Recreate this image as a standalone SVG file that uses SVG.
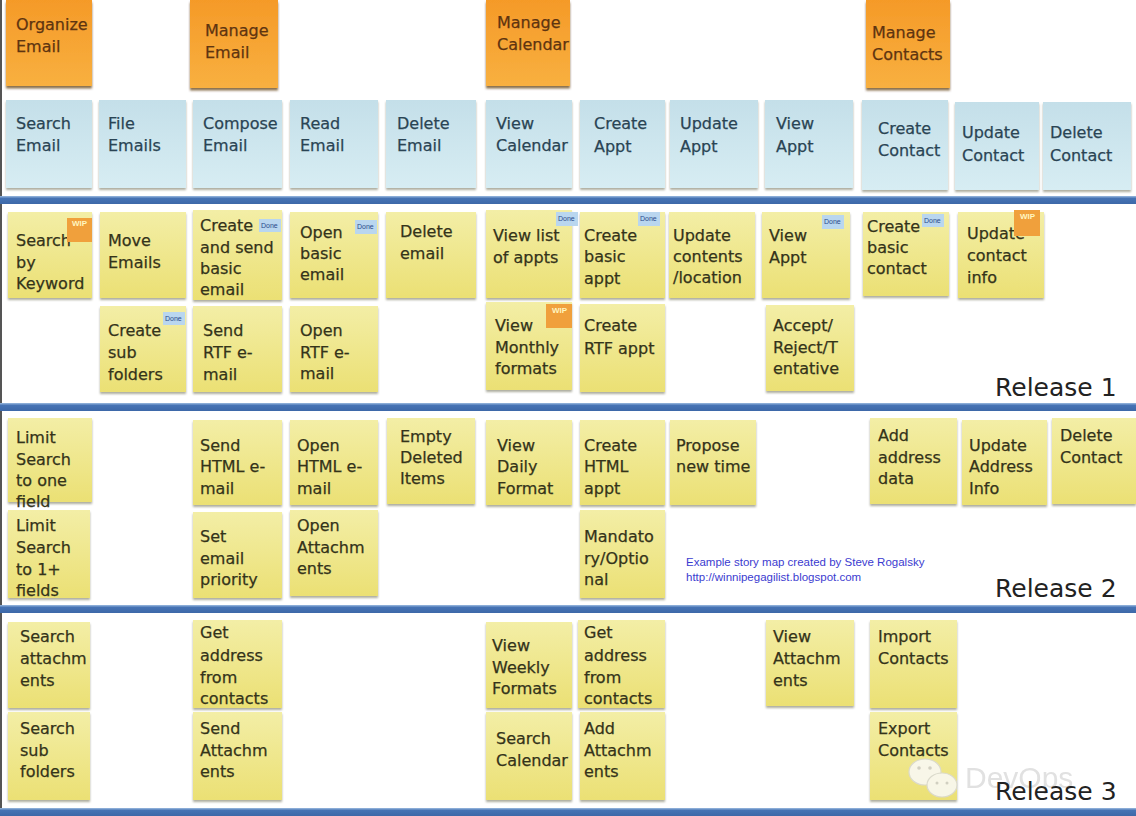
<svg xmlns="http://www.w3.org/2000/svg" width="1136" height="816" viewBox="0 0 1136 816">
<defs>
<linearGradient id="gy" x1="0" y1="0" x2="0" y2="1"><stop offset="0" stop-color="#f3eea6"/><stop offset="1" stop-color="#ebe074"/></linearGradient>
<linearGradient id="gb" x1="0" y1="0" x2="0" y2="1"><stop offset="0" stop-color="#c4dfe9"/><stop offset="1" stop-color="#d7edf3"/></linearGradient>
<linearGradient id="go" x1="0" y1="0" x2="0" y2="1"><stop offset="0" stop-color="#f59a28"/><stop offset="1" stop-color="#f8b040"/></linearGradient>
<linearGradient id="gbar" x1="0" y1="0" x2="0" y2="1"><stop offset="0" stop-color="#9cbbe0"/><stop offset="0.3" stop-color="#4673b4"/><stop offset="1" stop-color="#3d68a8"/></linearGradient>
<filter id="ds" x="-10%" y="-10%" width="120%" height="125%"><feDropShadow dx="0" dy="2" stdDeviation="1.2" flood-color="#6a6a50" flood-opacity="0.55"/></filter>
<filter id="dso" x="-10%" y="-10%" width="120%" height="125%"><feDropShadow dx="0" dy="2.5" stdDeviation="1" flood-color="#5a3000" flood-opacity="0.7"/></filter>
</defs>
<style>
text{font-family:"Comic Sans MS","DejaVu Sans",sans-serif;font-size:16px}
.y rect.n{fill:url(#gy);filter:url(#ds)}
.b rect.n{fill:url(#gb);filter:url(#ds)}
.o rect.n{fill:url(#go);filter:url(#dso)}
.y text{fill:#34331a;stroke:#34331a;stroke-width:0.25}
.b text{fill:#2a4454;stroke:#2a4454;stroke-width:0.25}
.o text{fill:#5e3410;stroke:#5e3410;stroke-width:0.25}
.bar{fill:url(#gbar)}
.done rect{fill:#b9d6ef}
.done text{font-size:7px;fill:#2a4a8a;stroke:none;font-family:"Liberation Sans",sans-serif}
.wip rect{fill:#f0a03c}
.wip text{font-size:8px;fill:#fff6c0;stroke:none;font-family:"Liberation Sans",sans-serif;font-weight:bold}
.rel{font-size:25px;fill:#222}
.credit{font-family:"Liberation Sans",Arial,sans-serif;font-size:11.5px;fill:#3b3bd0}
</style>
<rect width="1136" height="816" fill="#ffffff"/>
<rect x="0" y="0" width="2" height="816" fill="#555"/>

<g id="connectors">
<rect class="bar" x="0" y="196" width="1136" height="8"/>
<rect class="bar" x="0" y="403" width="1136" height="8"/>
<rect class="bar" x="0" y="605" width="1136" height="8"/>
<rect class="bar" x="0" y="808" width="1136" height="8"/>
</g>

<!-- Orange epics -->
<g id="epic-organize-email" class="o"><rect class="n" x="6" y="0" width="86" height="86"/><text><tspan x="16" y="30">Organize</tspan><tspan x="16" y="52">Email</tspan></text></g>
<g id="epic-manage-email" class="o"><rect class="n" x="190" y="0" width="88" height="88"/><text><tspan x="205" y="36">Manage</tspan><tspan x="205" y="58">Email</tspan></text></g>
<g id="epic-manage-calendar" class="o"><rect class="n" x="486" y="0" width="84" height="86"/><text><tspan x="497" y="28">Manage</tspan><tspan x="497" y="50">Calendar</tspan></text></g>
<g id="epic-manage-contacts" class="o"><rect class="n" x="866" y="0" width="84" height="88"/><text><tspan x="872" y="38">Manage</tspan><tspan x="872" y="60">Contacts</tspan></text></g>

<!-- Blue activities -->
<g id="act-search-email" class="b"><rect class="n" x="6" y="100" width="86" height="88"/><text><tspan x="16" y="129">Search</tspan><tspan x="16" y="151">Email</tspan></text></g>
<g id="act-file-emails" class="b"><rect class="n" x="99" y="100" width="87" height="88"/><text><tspan x="108" y="129">File</tspan><tspan x="108" y="151">Emails</tspan></text></g>
<g id="act-compose-email" class="b"><rect class="n" x="193" y="100" width="89" height="88"/><text><tspan x="203" y="129">Compose</tspan><tspan x="203" y="151">Email</tspan></text></g>
<g id="act-read-email" class="b"><rect class="n" x="290" y="100" width="88" height="88"/><text><tspan x="300" y="129">Read</tspan><tspan x="300" y="151">Email</tspan></text></g>
<g id="act-delete-email" class="b"><rect class="n" x="386" y="100" width="90" height="88"/><text><tspan x="397" y="129">Delete</tspan><tspan x="397" y="151">Email</tspan></text></g>
<g id="act-view-calendar" class="b"><rect class="n" x="486" y="100" width="86" height="88"/><text><tspan x="496" y="129">View</tspan><tspan x="496" y="151">Calendar</tspan></text></g>
<g id="act-create-appt" class="b"><rect class="n" x="580" y="100" width="85" height="88"/><text><tspan x="594" y="129">Create</tspan><tspan x="594" y="152">Appt</tspan></text></g>
<g id="act-update-appt" class="b"><rect class="n" x="670" y="100" width="88" height="88"/><text><tspan x="680" y="129">Update</tspan><tspan x="680" y="152">Appt</tspan></text></g>
<g id="act-view-appt" class="b"><rect class="n" x="765" y="100" width="88" height="88"/><text><tspan x="776" y="129">View</tspan><tspan x="776" y="152">Appt</tspan></text></g>
<g id="act-create-contact" class="b"><rect class="n" x="862" y="100" width="86" height="90"/><text><tspan x="878" y="134">Create</tspan><tspan x="878" y="156">Contact</tspan></text></g>
<g id="act-update-contact" class="b"><rect class="n" x="955" y="102" width="84" height="88"/><text><tspan x="962" y="138">Update</tspan><tspan x="962" y="161">Contact</tspan></text></g>
<g id="act-delete-contact" class="b"><rect class="n" x="1043" y="102" width="88" height="88"/><text><tspan x="1050" y="138">Delete</tspan><tspan x="1050" y="161">Contact</tspan></text></g>

<!-- Release 1 -->
<g id="r1-search-keyword" class="y"><rect class="n" x="8" y="212" width="84" height="86"/><text><tspan x="16" y="246">Search</tspan><tspan x="16" y="268">by</tspan><tspan x="16" y="289">Keyword</tspan></text>
<g class="wip"><rect x="67" y="218" width="25" height="24"/><text x="72" y="226">WIP</text></g></g>
<g id="r1-move-emails" class="y"><rect class="n" x="100" y="212" width="86" height="86"/><text><tspan x="108" y="246">Move</tspan><tspan x="108" y="268">Emails</tspan></text></g>
<g id="r1-create-send-basic" class="y"><rect class="n" x="193" y="210" width="89" height="90"/><text><tspan x="200" y="231">Create</tspan><tspan x="200" y="253">and send</tspan><tspan x="200" y="274">basic</tspan><tspan x="200" y="295">email</tspan></text>
<g class="done"><rect x="259" y="219" width="22" height="13"/><text x="261" y="228">Done</text></g></g>
<g id="r1-open-basic" class="y"><rect class="n" x="290" y="212" width="88" height="86"/><text><tspan x="300" y="238">Open</tspan><tspan x="300" y="259">basic</tspan><tspan x="300" y="280">email</tspan></text>
<g class="done"><rect x="355" y="220" width="22" height="14"/><text x="357" y="229">Done</text></g></g>
<g id="r1-delete-email" class="y"><rect class="n" x="386" y="212" width="90" height="86"/><text><tspan x="400" y="237">Delete</tspan><tspan x="400" y="259">email</tspan></text></g>
<g id="r1-view-list" class="y"><rect class="n" x="486" y="210" width="86" height="88"/><text><tspan x="493" y="241">View list</tspan><tspan x="493" y="263">of appts</tspan></text>
<g class="done"><rect x="556" y="212" width="22" height="14"/><text x="558" y="221">Done</text></g></g>
<g id="r1-create-basic-appt" class="y"><rect class="n" x="580" y="212" width="85" height="86"/><text><tspan x="584" y="241">Create</tspan><tspan x="584" y="262">basic</tspan><tspan x="584" y="284">appt</tspan></text>
<g class="done"><rect x="638" y="212" width="22" height="14"/><text x="640" y="221">Done</text></g></g>
<g id="r1-update-contents" class="y"><rect class="n" x="669" y="212" width="86" height="86"/><text><tspan x="673" y="241">Update</tspan><tspan x="673" y="262">contents</tspan><tspan x="673" y="283">/location</tspan></text></g>
<g id="r1-view-appt" class="y"><rect class="n" x="762" y="212" width="88" height="86"/><text><tspan x="769" y="241">View</tspan><tspan x="769" y="263">Appt</tspan></text>
<g class="done"><rect x="822" y="215" width="22" height="14"/><text x="824" y="224">Done</text></g></g>
<g id="r1-create-basic-contact" class="y"><rect class="n" x="863" y="212" width="86" height="84"/><text><tspan x="867" y="232">Create</tspan><tspan x="867" y="253">basic</tspan><tspan x="867" y="274">contact</tspan></text>
<g class="done"><rect x="922" y="214" width="22" height="13"/><text x="924" y="223">Done</text></g></g>
<g id="r1-update-contact-info" class="y"><rect class="n" x="958" y="212" width="86" height="86"/><text><tspan x="967" y="239">Update</tspan><tspan x="967" y="261">contact</tspan><tspan x="967" y="283">info</tspan></text>
<g class="wip"><rect x="1014" y="210" width="26" height="26"/><text x="1020" y="219">WIP</text></g></g>

<g id="r1-create-sub-folders" class="y"><rect class="n" x="100" y="306" width="86" height="86"/><text><tspan x="108" y="336">Create</tspan><tspan x="108" y="358">sub</tspan><tspan x="108" y="380">folders</tspan></text>
<g class="done"><rect x="163" y="312" width="22" height="13"/><text x="165" y="321">Done</text></g></g>
<g id="r1-send-rtf" class="y"><rect class="n" x="193" y="306" width="89" height="86"/><text><tspan x="203" y="336">Send</tspan><tspan x="203" y="358">RTF e-</tspan><tspan x="203" y="380">mail</tspan></text></g>
<g id="r1-open-rtf" class="y"><rect class="n" x="290" y="306" width="88" height="86"/><text><tspan x="300" y="336">Open</tspan><tspan x="300" y="358">RTF e-</tspan><tspan x="300" y="379">mail</tspan></text></g>
<g id="r1-view-monthly" class="y"><rect class="n" x="486" y="302" width="86" height="88"/><text><tspan x="495" y="331">View</tspan><tspan x="495" y="353">Monthly</tspan><tspan x="495" y="374">formats</tspan></text>
<g class="wip"><rect x="546" y="304" width="26" height="24"/><text x="552" y="313">WIP</text></g></g>
<g id="r1-create-rtf-appt" class="y"><rect class="n" x="580" y="304" width="85" height="88"/><text><tspan x="584" y="331">Create</tspan><tspan x="584" y="354">RTF appt</tspan></text></g>
<g id="r1-accept-reject" class="y"><rect class="n" x="766" y="305" width="88" height="86"/><text><tspan x="773" y="331">Accept/</tspan><tspan x="773" y="353">Reject/T</tspan><tspan x="773" y="374">entative</tspan></text></g>
<text id="label-release-1" class="rel" x="995" y="396">Release 1</text>

<!-- Release 2 -->
<g id="r2-limit-one" class="y"><rect class="n" x="8" y="418" width="84" height="84"/><text><tspan x="16" y="443">Limit</tspan><tspan x="16" y="465">Search</tspan><tspan x="16" y="486">to one</tspan><tspan x="16" y="507">field</tspan></text></g>
<g id="r2-send-html" class="y"><rect class="n" x="193" y="420" width="89" height="85"/><text><tspan x="200" y="451">Send</tspan><tspan x="200" y="472">HTML e-</tspan><tspan x="200" y="494">mail</tspan></text></g>
<g id="r2-open-html" class="y"><rect class="n" x="290" y="420" width="88" height="85"/><text><tspan x="297" y="451">Open</tspan><tspan x="297" y="472">HTML e-</tspan><tspan x="297" y="494">mail</tspan></text></g>
<g id="r2-empty-deleted" class="y"><rect class="n" x="387" y="418" width="88" height="86"/><text><tspan x="400" y="442">Empty</tspan><tspan x="400" y="463">Deleted</tspan><tspan x="400" y="484">Items</tspan></text></g>
<g id="r2-view-daily" class="y"><rect class="n" x="486" y="420" width="86" height="85"/><text><tspan x="497" y="451">View</tspan><tspan x="497" y="472">Daily</tspan><tspan x="497" y="494">Format</tspan></text></g>
<g id="r2-create-html-appt" class="y"><rect class="n" x="580" y="420" width="85" height="85"/><text><tspan x="584" y="451">Create</tspan><tspan x="584" y="472">HTML</tspan><tspan x="584" y="494">appt</tspan></text></g>
<g id="r2-propose-time" class="y"><rect class="n" x="670" y="420" width="86" height="85"/><text><tspan x="676" y="451">Propose</tspan><tspan x="676" y="472">new time</tspan></text></g>
<g id="r2-add-address" class="y"><rect class="n" x="870" y="418" width="87" height="86"/><text><tspan x="878" y="441">Add</tspan><tspan x="878" y="463">address</tspan><tspan x="878" y="484">data</tspan></text></g>
<g id="r2-update-address" class="y"><rect class="n" x="962" y="420" width="85" height="85"/><text><tspan x="969" y="451">Update</tspan><tspan x="969" y="472">Address</tspan><tspan x="969" y="494">Info</tspan></text></g>
<g id="r2-delete-contact" class="y"><rect class="n" x="1052" y="418" width="84" height="86"/><text><tspan x="1060" y="441">Delete</tspan><tspan x="1060" y="463">Contact</tspan></text></g>

<g id="r2-limit-many" class="y"><rect class="n" x="8" y="510" width="82" height="88"/><text><tspan x="16" y="531">Limit</tspan><tspan x="16" y="553">Search</tspan><tspan x="16" y="575">to 1+</tspan><tspan x="16" y="596">fields</tspan></text></g>
<g id="r2-set-priority" class="y"><rect class="n" x="193" y="512" width="89" height="86"/><text><tspan x="200" y="542">Set</tspan><tspan x="200" y="564">email</tspan><tspan x="200" y="585">priority</tspan></text></g>
<g id="r2-open-attachments" class="y"><rect class="n" x="290" y="510" width="88" height="86"/><text><tspan x="297" y="531">Open</tspan><tspan x="297" y="553">Attachm</tspan><tspan x="297" y="574">ents</tspan></text></g>
<g id="r2-mandatory" class="y"><rect class="n" x="580" y="510" width="85" height="88"/><text><tspan x="584" y="542">Mandato</tspan><tspan x="584" y="564">ry/Optio</tspan><tspan x="584" y="585">nal</tspan></text></g>
<text id="credit" class="credit"><tspan x="686" y="566">Example story map created by Steve Rogalsky</tspan><tspan x="686" y="581">http://winnipegagilist.blogspot.com</tspan></text>
<text id="label-release-2" class="rel" x="995" y="597">Release 2</text>

<!-- Release 3 -->
<g id="r3-search-attachments" class="y"><rect class="n" x="8" y="622" width="82" height="86"/><text><tspan x="20" y="642">Search</tspan><tspan x="20" y="664">attachm</tspan><tspan x="20" y="686">ents</tspan></text></g>
<g id="r3-get-address-email" class="y"><rect class="n" x="193" y="620" width="89" height="88"/><text><tspan x="200" y="638">Get</tspan><tspan x="200" y="661">address</tspan><tspan x="200" y="683">from</tspan><tspan x="200" y="704">contacts</tspan></text></g>
<g id="r3-view-weekly" class="y"><rect class="n" x="486" y="622" width="86" height="86"/><text><tspan x="492" y="651">View</tspan><tspan x="492" y="673">Weekly</tspan><tspan x="492" y="694">Formats</tspan></text></g>
<g id="r3-get-address-appt" class="y"><rect class="n" x="578" y="620" width="87" height="88"/><text><tspan x="584" y="638">Get</tspan><tspan x="584" y="661">address</tspan><tspan x="584" y="683">from</tspan><tspan x="584" y="704">contacts</tspan></text></g>
<g id="r3-view-attachments" class="y"><rect class="n" x="766" y="620" width="88" height="86"/><text><tspan x="773" y="642">View</tspan><tspan x="773" y="664">Attachm</tspan><tspan x="773" y="686">ents</tspan></text></g>
<g id="r3-import-contacts" class="y"><rect class="n" x="870" y="620" width="87" height="88"/><text><tspan x="878" y="642">Import</tspan><tspan x="878" y="664">Contacts</tspan></text></g>

<g id="r3-search-sub" class="y"><rect class="n" x="8" y="712" width="82" height="88"/><text><tspan x="20" y="734">Search</tspan><tspan x="20" y="756">sub</tspan><tspan x="20" y="777">folders</tspan></text></g>
<g id="r3-send-attachments" class="y"><rect class="n" x="193" y="712" width="89" height="88"/><text><tspan x="200" y="734">Send</tspan><tspan x="200" y="756">Attachm</tspan><tspan x="200" y="777">ents</tspan></text></g>
<g id="r3-search-calendar" class="y"><rect class="n" x="486" y="712" width="86" height="88"/><text><tspan x="496" y="744">Search</tspan><tspan x="496" y="766">Calendar</tspan></text></g>
<g id="r3-add-attachments" class="y"><rect class="n" x="580" y="712" width="85" height="88"/><text><tspan x="584" y="734">Add</tspan><tspan x="584" y="756">Attachm</tspan><tspan x="584" y="777">ents</tspan></text></g>
<g id="r3-export-contacts" class="y"><rect class="n" x="870" y="712" width="87" height="88"/><text><tspan x="878" y="734">Export</tspan><tspan x="878" y="756">Contacts</tspan></text></g>

<g id="watermark" opacity="0.85">
<ellipse cx="925" cy="772" rx="16" ry="13" fill="#fafafa" stroke="#d8d8d8" stroke-width="1.2"/>
<ellipse cx="942" cy="785" rx="15" ry="12" fill="#fafafa" stroke="#d8d8d8" stroke-width="1.2"/>
<circle cx="919" cy="768" r="1.8" fill="#ccc"/><circle cx="930" cy="768" r="1.8" fill="#ccc"/>
<circle cx="937" cy="783" r="1.5" fill="#ccc"/><circle cx="947" cy="783" r="1.5" fill="#ccc"/>
<text x="965" y="788" style="font-family:'Liberation Sans',sans-serif;font-size:30px;fill:#dcdcdc">DevOps</text>
</g>
<text id="label-release-3" class="rel" x="995" y="800">Release 3</text>
</svg>
